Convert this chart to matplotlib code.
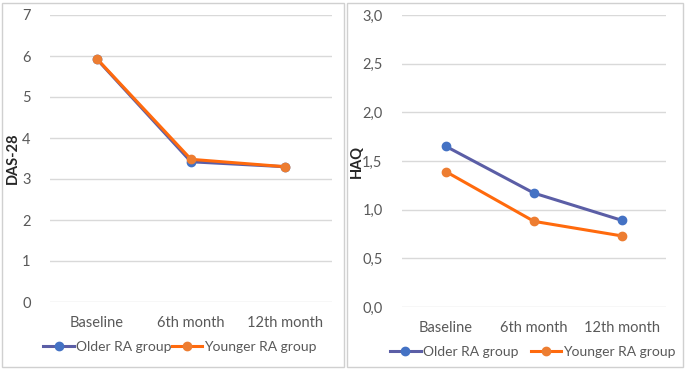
import matplotlib.pyplot as plt
from matplotlib.patches import Rectangle
from matplotlib.lines import Line2D

categories = ["Baseline", "6th month", "12th month"]
series_names = ["Older RA group", "Younger RA group"]

das_older = [5.92, 3.42, 3.30]
das_younger = [5.93, 3.48, 3.30]
haq_older = [1.65, 1.17, 0.89]
haq_younger = [1.39, 0.88, 0.73]

das_ticks = [0, 1, 2, 3, 4, 5, 6, 7]
haq_ticks = [0.0, 0.5, 1.0, 1.5, 2.0, 2.5, 3.0]

line_cols = ["#5B5EA6", "#FF6A0D"]
mark_cols = ["#4472C4", "#ED7D31"]
txt = "#595959"

plt.rcParams['font.family'] = ['Lato', 'DejaVu Sans']

W, H = 685, 369
fig = plt.figure(figsize=(W / 100, H / 100), dpi=100)

# panel borders
for x0, x1 in [(2, 344), (347, 683)]:
    fig.patches.append(Rectangle((x0 / W, 2 / H), (x1 - x0) / W, 364 / H,
                                 transform=fig.transFigure, fill=False,
                                 edgecolor="#D0D0D0", lw=1))


def panel(rect, older, younger, ticks, ymax, ylabel, fmt, label_x,
          leg_x, leg_y, colspace):
    ax = fig.add_axes(rect)
    x = range(len(categories))
    for vals, lc, mc in [(older, line_cols[0], mark_cols[0]),
                         (younger, line_cols[1], mark_cols[1])]:
        ax.plot(x, vals, color=lc, lw=2.2, marker="o", ms=6,
                mfc=mc, mec=mc, zorder=3)
    ax.set_xlim(-0.5, len(categories) - 0.5)
    ax.set_ylim(0, ymax)
    ax.set_yticks(ticks)
    ax.set_yticklabels([fmt(t) for t in ticks])
    ax.set_xticks(list(x))
    ax.set_xticklabels(categories)
    ax.grid(axis="y", color="#D9D9D9", lw=1)
    ax.set_axisbelow(True)
    for s in ax.spines.values():
        s.set_visible(False)
    ax.tick_params(length=0, labelsize=10.5, colors=txt, pad=10)
    ax.tick_params(axis="y", pad=14)
    fig.text(label_x / W, rect[1] + rect[3] / 2, ylabel, rotation=90,
             ha="center", va="center", fontsize=10.5, fontweight="bold",
             color="#262626")
    handles = [Line2D([], [], color=line_cols[i], lw=2.2, marker="o", ms=6,
                      mfc=mark_cols[i], mec=mark_cols[i]) for i in range(2)]
    fig.legend(handles, series_names, loc="center",
               bbox_to_anchor=(leg_x / W, 1 - leg_y / H),
               ncol=2, frameon=False, fontsize=10, labelcolor=txt,
               handlelength=2.2, handletextpad=0.15, columnspacing=colspace,
               borderpad=0, borderaxespad=0)
    return ax


rect_l = [50 / W, 67 / H, 282 / W, 287 / H]
rect_r = [402 / W, 62 / H, 264 / W, 292 / H]

panel(rect_l, das_older, das_younger, das_ticks, 7, "DAS-28",
      lambda t: f"{t:d}", 13, 180, 347, 0.0)
panel(rect_r, haq_older, haq_younger, haq_ticks, 3.0, "HAQ",
      lambda t: f"{t:.1f}".replace(".", ","), 357, 533, 352, 0.9)

fig.savefig("out.png", dpi=100)
